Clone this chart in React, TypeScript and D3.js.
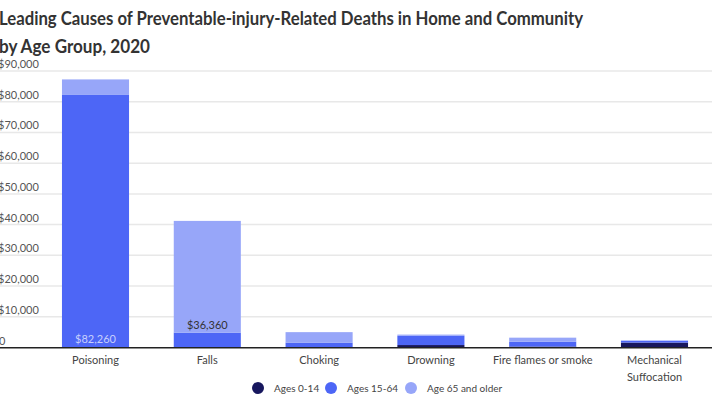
import React from "react";
import * as d3 from "d3";

const categories = ["Poisoning", "Falls", "Choking", "Drowning", "Fire flames or smoke", "Mechanical Suffocation"];
const ages0to14 = [100, 50, 100, 800, 300, 1600];
const ages15to64 = [82260, 4800, 1500, 3000, 1600, 600];
const ages65plus = [4900, 36360, 3400, 400, 1300, 100];
const yTicks = [0, 10000, 20000, 30000, 40000, 50000, 60000, 70000, 80000, 90000];
const seriesNames = ["Ages 0-14", "Ages 15-64", "Age 65 and older"];
const seriesColors = ["#17175e", "#4d66f6", "#97a6f9"];
const valueLabels = [
  { cat: "Poisoning", text: "$82,260", series: 1, inside: true },
  { cat: "Falls", text: "$36,360", series: 2, inside: false },
];

const W = 720;
const H = 404;
const FONT = "Lato, 'Open Sans', sans-serif";

export default function App() {
  const x = d3.scaleBand<string>().domain(categories).range([39.6, 710.4]).paddingInner(0.4).paddingOuter(0.2);
  const y = d3.scaleLinear().domain([0, 90000]).range([347.5, 71]);

  const rows = categories.map((c, i) => ({ cat: c, a: ages0to14[i], b: ages15to64[i], c: ages65plus[i] }));
  const stack = d3.stack<any>().keys(["a", "b", "c"])(rows);
  const fmt = (v: number) => (v === 0 ? "0" : "$" + d3.format(",")(v));

  const legendX = [258, 331, 411];

  return (
    <svg width={W} height={H} style={{ position: "absolute", left: 0, top: 0, background: "#fff" }}>
      <text x={-1} y={25} fontFamily={FONT} fontWeight={700} fontSize={19} fill="#333" textLength={584} lengthAdjust="spacingAndGlyphs">
        Leading Causes of Preventable-injury-Related Deaths in Home and Community
      </text>
      <text x={-1} y={53} fontFamily={FONT} fontWeight={700} fontSize={19} fill="#333" textLength={151} lengthAdjust="spacingAndGlyphs">
        by Age Group, 2020
      </text>

      {yTicks.map((t) => (
        <g key={t}>
          {t > 0 && <line x1={0} x2={712} y1={y(t)} y2={y(t)} stroke="#e8e8e8" strokeWidth={1.5} />}
          <text x={t === 0 ? -1 : -2} y={y(t) - 3} fontFamily={FONT} fontSize={11} fill="#555">
            {fmt(t)}
          </text>
        </g>
      ))}

      {stack.map((s, si) => (
        <g key={si} fill={seriesColors[si]}>
          {s.map((d: any, i: number) => (
            <rect key={i} x={x(categories[i])} width={x.bandwidth()} y={y(d[1])} height={Math.max(0, y(d[0]) - y(d[1]))} />
          ))}
        </g>
      ))}

      <line x1={0} x2={712} y1={347.8} y2={347.8} stroke="#222" strokeWidth={1.5} />

      {valueLabels.map((vl, k) => {
        const i = categories.indexOf(vl.cat);
        const seg = stack[vl.series][i];
        const cx = (x(vl.cat) as number) + x.bandwidth() / 2;
        const yy = vl.inside ? y(seg[0]) - 4 : y(seg[0]) - 4;
        return (
          <text key={k} x={cx} y={yy} textAnchor="middle" fontFamily={FONT} fontSize={11} fill={vl.inside ? "#c8d0fd" : "#333"}>
            {vl.text}
          </text>
        );
      })}

      {categories.map((c) => {
        const cx = (x(c) as number) + x.bandwidth() / 2;
        const parts = c === "Mechanical Suffocation" ? ["Mechanical", "Suffocation"] : [c];
        return (
          <text key={c} x={cx} y={364} textAnchor="middle" fontFamily={FONT} fontSize={11} fill="#444">
            {parts.map((p, j) => (
              <tspan key={j} x={cx} dy={j === 0 ? 0 : 17}>
                {p}
              </tspan>
            ))}
          </text>
        );
      })}

      {seriesNames.map((n, i) => (
        <g key={n}>
          <circle cx={legendX[i]} cy={388} r={6} fill={seriesColors[i]} />
          <text x={legendX[i] + 16} y={391.5} fontFamily={FONT} fontSize={10} fill="#444">
            {n}
          </text>
        </g>
      ))}
    </svg>
  );
}
